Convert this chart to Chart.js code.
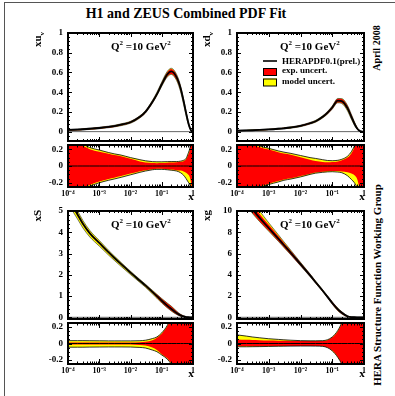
<!DOCTYPE html>
<html lang="en">
<head>
<meta charset="UTF-8">
<title>H1 and ZEUS Combined PDF Fit</title>
<script src="https://cdn.jsdelivr.net/npm/chart.js"></script>
<style>
  body { margin: 0; background: #fff; }
  #page { position: relative; width: 395px; height: 396px; overflow: hidden; background: #fff; }
  #frame { position: absolute; left: 4px; top: 2px; width: 420px; height: 420px; border-top: 1px solid #555; border-left: 1px solid #555; }
  canvas { position: absolute; }
  .txt { position: absolute; font-family: 'Liberation Serif', serif; font-weight: bold; color: #000; white-space: nowrap; }
  #title { left: 186px; top: 7px; font-size: 14px; line-height: 14px; transform: translateX(-50%); }
  #date { left: 377px; top: 48px; font-size: 10px; line-height: 10px; transform: translate(-50%, -50%) rotate(-90deg); }
  #group { left: 377px; top: 285px; font-size: 11px; line-height: 11px; transform: translate(-50%, -50%) rotate(-90deg); }
</style>
</head>
<body>
<div id="page">
  <div id="frame"></div>
  <div class="txt" id="title">H1 and ZEUS Combined PDF Fit</div>
  <div class="txt" id="date">April 2008</div>
  <div class="txt" id="group">HERA Structure Function Working Group</div>
  <canvas id="uvMain"></canvas>
  <canvas id="uvRatio"></canvas>
  <canvas id="dvMain"></canvas>
  <canvas id="dvRatio"></canvas>
  <canvas id="sMain"></canvas>
  <canvas id="sRatio"></canvas>
  <canvas id="gMain"></canvas>
  <canvas id="gRatio"></canvas>
</div>
<script>
// x grid shared by all curves
const xGrid = [1e-4, 2e-4, 3e-4, 5e-4, 1e-3, 2e-3, 3e-3, 5e-3, 1e-2, 2e-2, 3e-2, 5e-2, 0.07, 0.1, 0.15, 0.2, 0.3, 0.4, 0.5, 0.6, 0.7, 0.8, 0.9, 1];

const xTickValues = [1e-4, 1e-3, 1e-2, 1e-1, 1];
const xTickLabels = ['10\u207B\u2074', '10\u207B\u00B3', '10\u207B\u00B2', '10\u207B\u00B9', '1'];

const legendLabels = ['HERAPDF0.1(prel.)', 'exp. uncert.', 'model uncert.'];

// xu_v
const uvCentral = [0.017, 0.021, 0.024, 0.029, 0.037, 0.048, 0.056, 0.070, 0.095, 0.15, 0.20, 0.30, 0.38, 0.48, 0.58, 0.61, 0.55, 0.44, 0.31, 0.19, 0.095, 0.035, 0.005, 0];
const uvExpUp = [0.38, 0.28, 0.24, 0.20, 0.17, 0.145, 0.13, 0.115, 0.085, 0.055, 0.042, 0.035, 0.033, 0.035, 0.04, 0.042, 0.045, 0.05, 0.058, 0.08, 0.13, 0.2, 0.33, 0.5];
const uvExpDn = [-0.38, -0.30, -0.265, -0.225, -0.185, -0.155, -0.14, -0.12, -0.09, -0.062, -0.05, -0.038, -0.033, -0.033, -0.038, -0.042, -0.05, -0.055, -0.065, -0.08, -0.1, -0.14, -0.25, -0.5];
const uvTotUp = [0.40, 0.30, 0.26, 0.22, 0.19, 0.16, 0.145, 0.13, 0.10, 0.075, 0.062, 0.052, 0.05, 0.05, 0.052, 0.053, 0.053, 0.058, 0.068, 0.09, 0.15, 0.22, 0.35, 0.5];
const uvTotDn = [-0.40, -0.32, -0.28, -0.24, -0.20, -0.17, -0.155, -0.135, -0.105, -0.075, -0.06, -0.045, -0.04, -0.04, -0.045, -0.05, -0.06, -0.08, -0.11, -0.15, -0.19, -0.23, -0.30, -0.5];

// xd_v
const dvCentral = [0.010, 0.012, 0.014, 0.017, 0.022, 0.029, 0.034, 0.042, 0.058, 0.085, 0.105, 0.15, 0.19, 0.245, 0.315, 0.31, 0.24, 0.15, 0.08, 0.035, 0.012, 0.003, 0.0005, 0];
const dvExpUp = [0.43, 0.32, 0.265, 0.225, 0.195, 0.165, 0.15, 0.135, 0.105, 0.075, 0.06, 0.048, 0.045, 0.047, 0.055, 0.068, 0.10, 0.15, 0.22, 0.30, 0.40, 0.5, 0.6, 0.7];
const dvExpDn = [-0.44, -0.34, -0.29, -0.25, -0.21, -0.18, -0.162, -0.147, -0.12, -0.092, -0.078, -0.068, -0.062, -0.06, -0.06, -0.065, -0.075, -0.09, -0.11, -0.15, -0.25, -0.4, -0.6, -0.7];
const dvTotUp = [0.45, 0.34, 0.28, 0.24, 0.21, 0.18, 0.165, 0.15, 0.125, 0.10, 0.09, 0.075, 0.066, 0.063, 0.068, 0.08, 0.115, 0.17, 0.24, 0.32, 0.42, 0.5, 0.6, 0.7];
const dvTotDn = [-0.45, -0.35, -0.30, -0.26, -0.22, -0.19, -0.17, -0.155, -0.13, -0.10, -0.085, -0.075, -0.07, -0.068, -0.072, -0.08, -0.115, -0.16, -0.20, -0.26, -0.35, -0.45, -0.6, -0.7];

// xS
const sCentral = [5.6, 4.85, 4.4, 3.95, 3.5, 3.05, 2.8, 2.5, 2.1, 1.72, 1.5, 1.2, 1.0, 0.78, 0.55, 0.4, 0.2, 0.09, 0.04, 0.012, 0.003, 0, 0, 0];
const sExpUp = [0.012, 0.012, 0.012, 0.012, 0.012, 0.012, 0.012, 0.012, 0.013, 0.016, 0.02, 0.04, 0.07, 0.12, 0.21, 0.31, 0.45, 0.6, 0.8, 1, 1, 1, 1, 1];
const sExpDn = [-0.012, -0.012, -0.012, -0.012, -0.012, -0.012, -0.012, -0.012, -0.013, -0.018, -0.025, -0.05, -0.08, -0.13, -0.18, -0.24, -0.35, -0.5, -0.7, -1, -1, -1, -1, -1];
const sTotUp = [0.035, 0.035, 0.035, 0.034, 0.033, 0.032, 0.032, 0.032, 0.032, 0.034, 0.04, 0.06, 0.08, 0.13, 0.22, 0.32, 0.45, 0.6, 0.8, 1, 1, 1, 1, 1];
const sTotDn = [-0.045, -0.045, -0.045, -0.044, -0.043, -0.042, -0.042, -0.042, -0.043, -0.048, -0.055, -0.08, -0.10, -0.14, -0.19, -0.25, -0.35, -0.5, -0.7, -1, -1, -1, -1, -1];

// xg
const gCentral = [11.9, 10.9, 10.2, 9.4, 8.4, 7.4, 6.8, 6.05, 5.0, 3.95, 3.3, 2.5, 1.95, 1.35, 0.75, 0.42, 0.1, 0.02, 0.004, 0, 0, 0, 0, 0];
const gExpUp = [0.05, 0.045, 0.043, 0.04, 0.037, 0.035, 0.033, 0.032, 0.03, 0.03, 0.03, 0.03, 0.04, 0.075, 0.15, 0.25, 0.5, 0.8, 1, 1, 1, 1, 1, 1];
const gExpDn = [-0.035, -0.035, -0.034, -0.033, -0.032, -0.031, -0.03, -0.03, -0.03, -0.03, -0.03, -0.033, -0.048, -0.085, -0.165, -0.26, -0.5, -0.8, -1, -1, -1, -1, -1, -1];
const gTotUp = [0.105, 0.09, 0.08, 0.07, 0.058, 0.05, 0.045, 0.04, 0.035, 0.033, 0.033, 0.035, 0.045, 0.08, 0.16, 0.26, 0.5, 0.8, 1, 1, 1, 1, 1, 1];
const gTotDn = [-0.04, -0.04, -0.039, -0.038, -0.036, -0.034, -0.033, -0.032, -0.031, -0.031, -0.032, -0.035, -0.05, -0.09, -0.17, -0.26, -0.5, -0.8, -1, -1, -1, -1, -1, -1];

const FONT = '"Liberation Serif", "Times New Roman", serif';
const RED = '#ff0000', YELLOW = '#ffff00';

function drawParts(ctx, parts, x, y) {
  let cx = x;
  parts.forEach(p => {
    ctx.font = 'bold ' + p.s + 'px ' + FONT;
    ctx.fillText(p.t, cx, y + (p.dy || 0));
    cx += ctx.measureText(p.t).width;
  });
  return cx - x;
}
function partsWidth(ctx, parts) {
  let w = 0;
  parts.forEach(p => { ctx.font = 'bold ' + p.s + 'px ' + FONT; w += ctx.measureText(p.t).width; });
  return w;
}

// frame, inward ticks, labels inside the pads
const panelDecor = {
  id: 'panelDecor',
  afterDatasetsDraw(chart, args, o) {
    const ctx = chart.ctx, a = chart.chartArea;
    const xs = chart.scales.x, ys = chart.scales.y;
    ctx.save();
    ctx.strokeStyle = '#000';
    ctx.fillStyle = '#000';
    ctx.lineWidth = 1;
    ctx.beginPath();
    const vtick = (v, len) => {
      const p = Math.round(xs.getPixelForValue(v)) + 0.5;
      ctx.moveTo(p, a.bottom); ctx.lineTo(p, a.bottom - len);
      ctx.moveTo(p, a.top); ctx.lineTo(p, a.top + len);
    };
    const htick = (v, len) => {
      const p = Math.round(ys.getPixelForValue(v)) + 0.5;
      ctx.moveTo(a.left, p); ctx.lineTo(a.left + len, p);
      ctx.moveTo(a.right, p); ctx.lineTo(a.right - len, p);
    };
    xTickValues.forEach((d, i) => {
      vtick(d, o.xMaj);
      if (i < xTickValues.length - 1) for (let m = 2; m <= 9; m++) vtick(m * d, o.xMaj / 2);
    });
    const yt = o.yTicks;
    const step = (yt[1] - yt[0]) / o.yDiv;
    for (let v = Math.ceil(o.yMin / step - 1e-9) * step; v <= o.yMax + 1e-9; v += step) {
      const isMajor = yt.some(t => Math.abs(t - v) < step / 10);
      htick(v, isMajor ? o.yMaj : o.yMaj / 2);
    }
    ctx.stroke();
    ctx.lineWidth = 2;
    ctx.strokeRect(a.left, a.top, a.right - a.left, a.bottom - a.top);

    ctx.textAlign = 'left';
    ctx.textBaseline = 'alphabetic';
    if (o.q2) {
      drawParts(ctx, [{ t: 'Q', s: 11 }, { t: '2', s: 7, dy: -4.5 }, { t: ' =10 GeV', s: 11 }, { t: '2', s: 7, dy: -4.5 }], a.left + 43, a.top + 16.5);
    }
    if (o.yTitle) {
      const parts = [{ t: o.yTitle[0], s: 11 }, { t: o.yTitle[1], s: 7, dy: 2.5 }];
      ctx.save();
      ctx.translate(a.left - 27, a.top - 1);
      ctx.rotate(-Math.PI / 2);
      drawParts(ctx, parts, -partsWidth(ctx, parts), 0);
      ctx.restore();
    }
    if (o.xTitle) {
      ctx.font = 'bold 11px ' + FONT;
      ctx.textAlign = 'center';
      ctx.fillText('x', a.right - 2, a.bottom + 13);
      ctx.textAlign = 'left';
    }
    if (o.legend) {
      const lx = a.left + 26, lw = 14;
      ctx.strokeStyle = '#333';
      ctx.lineWidth = 2;
      ctx.beginPath();
      ctx.moveTo(lx, a.top + 28); ctx.lineTo(lx + lw, a.top + 28);
      ctx.stroke();
      ctx.lineWidth = 1;
      ctx.strokeStyle = '#000';
      ctx.fillStyle = RED;
      ctx.fillRect(lx, a.top + 35, lw, 7.5);
      ctx.strokeRect(lx + 0.5, a.top + 35.5, lw - 1, 7);
      ctx.fillStyle = YELLOW;
      ctx.fillRect(lx, a.top + 45.5, lw, 7.5);
      ctx.strokeRect(lx + 0.5, a.top + 46, lw - 1, 7);
      ctx.fillStyle = '#000';
      ctx.font = 'bold 9px ' + FONT;
      ctx.fillText(legendLabels[0], a.left + 45, a.top + 30.5);
      ctx.fillText(legendLabels[1], a.left + 45, a.top + 40);
      ctx.fillText(legendLabels[2], a.left + 45, a.top + 50.5);
    }
    ctx.restore();
  }
};

function bandSets(center, expUp, expDn, totUp, totDn, asRatio) {
  const pts = arr => xGrid.map((x, i) => ({ x, y: asRatio ? arr[i] : center[i] * (1 + arr[i]) }));
  const mid = xGrid.map((x, i) => ({ x, y: asRatio ? 0 : center[i] }));
  const base = { pointRadius: 0, cubicInterpolationMode: 'monotone' };
  const line = (data, w, c) => Object.assign({ data, borderColor: c || '#000', borderWidth: w, fill: false }, base);
  const area = (data, color) => Object.assign({ data, borderColor: 'transparent', borderWidth: 1, backgroundColor: color, fill: '+1' }, base);
  const plain = data => Object.assign({ data, borderColor: 'transparent', borderWidth: 1, fill: false }, base);
  const edge = asRatio ? 0.8 : 0.6;
  const sets = [
    line(mid, asRatio ? 1 : 1.8),
    line(pts(totUp), edge, asRatio ? '#000' : '#222'),
    line(pts(totDn), edge, asRatio ? '#000' : '#222'),
    area(pts(expUp), RED),
    plain(pts(expDn)),
    area(pts(totUp), YELLOW),
    plain(pts(totDn))
  ];
  if (!asRatio) sets.push({ data: [{ x: 1e-4, y: 0 }, { x: 1, y: 0 }], borderColor: '#666', borderWidth: 1, pointRadius: 0, fill: false });
  return sets;
}

function makeChart(id, box, datasets, o) {
  const cv = document.getElementById(id);
  const padL = 45, padT = 10, padR = 12;
  const xH = o.xLabels ? 16 : 0, padB = o.xLabels ? 4 : 10;
  cv.width = box.R - box.L + padL + padR;
  cv.height = box.B - box.T + padT + xH + padB;
  cv.style.left = (box.L - padL) + 'px';
  cv.style.top = (box.T - padT) + 'px';
  new Chart(cv, {
    type: 'line',
    data: { datasets },
    plugins: [panelDecor],
    options: {
      responsive: false,
      animation: false,
      events: [],
      layout: { padding: { left: 0, top: padT, right: padR, bottom: padB } },
      plugins: { legend: { display: false }, tooltip: { enabled: false }, panelDecor: o },
      scales: {
        x: {
          type: 'logarithmic', min: 1e-4, max: 1,
          grid: { display: false, drawTicks: false },
          border: { display: false },
          ticks: {
            display: !!o.xLabels, autoSkip: false, maxRotation: 0, padding: 2, color: '#000',
            font: { family: FONT, weight: 'bold', size: 8 },
            callback: (v, i) => xTickLabels[i]
          },
          afterBuildTicks: s => { s.ticks = xTickValues.map(v => ({ value: v })); },
          afterFit: s => { s.height = xH; s.paddingLeft = 0; s.paddingRight = 0; }
        },
        y: {
          type: 'linear', min: o.yMin, max: o.yMax,
          grid: { display: false, drawTicks: false },
          border: { display: false },
          ticks: {
            padding: 5, color: '#000',
            font: { family: FONT, weight: 'bold', size: 9 },
            callback: v => String(v)
          },
          afterBuildTicks: s => { s.ticks = o.yTicks.map(v => ({ value: v })); },
          afterFit: s => { s.width = padL; s.paddingTop = 0; s.paddingBottom = 0; }
        }
      }
    }
  });
}

const ratioTicks = [-0.2, 0, 0.2];
const mainOpt = { xMaj: 4, yMaj: 4, yDiv: 5, q2: true };
const ratioOpt = { xMaj: 5, yMaj: 4, yDiv: 4, yMin: -0.25, yMax: 0.25, yTicks: ratioTicks, xLabels: true, xTitle: true };

makeChart('uvMain', { L: 68, T: 33, R: 193, B: 141 },
  bandSets(uvCentral, uvExpUp, uvExpDn, uvTotUp, uvTotDn, false),
  Object.assign({}, mainOpt, { yMin: -0.095, yMax: 1, yTicks: [0, 0.2, 0.4, 0.6, 0.8, 1], yTitle: ['xu', 'v'] }));
makeChart('uvRatio', { L: 68, T: 145, R: 193, B: 187 },
  bandSets(uvCentral, uvExpUp, uvExpDn, uvTotUp, uvTotDn, true), ratioOpt);

makeChart('dvMain', { L: 237, T: 33, R: 364, B: 141 },
  bandSets(dvCentral, dvExpUp, dvExpDn, dvTotUp, dvTotDn, false),
  Object.assign({}, mainOpt, { yMin: -0.095, yMax: 1, yTicks: [0, 0.2, 0.4, 0.6, 0.8, 1], yTitle: ['xd', 'v'], legend: true }));
makeChart('dvRatio', { L: 237, T: 145, R: 364, B: 187 },
  bandSets(dvCentral, dvExpUp, dvExpDn, dvTotUp, dvTotDn, true), ratioOpt);

makeChart('sMain', { L: 68, T: 211, R: 193, B: 319 },
  bandSets(sCentral, sExpUp, sExpDn, sTotUp, sTotDn, false),
  Object.assign({}, mainOpt, { yMin: -0.08, yMax: 5, yTicks: [0, 1, 2, 3, 4, 5], yTitle: ['xS', ''] }));
makeChart('sRatio', { L: 68, T: 323, R: 193, B: 364 },
  bandSets(sCentral, sExpUp, sExpDn, sTotUp, sTotDn, true), ratioOpt);

makeChart('gMain', { L: 237, T: 211, R: 364, B: 319 },
  bandSets(gCentral, gExpUp, gExpDn, gTotUp, gTotDn, false),
  Object.assign({}, mainOpt, { yMin: -0.16, yMax: 10, yTicks: [0, 2, 4, 6, 8, 10], yTitle: ['xg', ''] }));
makeChart('gRatio', { L: 237, T: 323, R: 364, B: 364 },
  bandSets(gCentral, gExpUp, gExpDn, gTotUp, gTotDn, true), ratioOpt);
</script>
</body>
</html>
